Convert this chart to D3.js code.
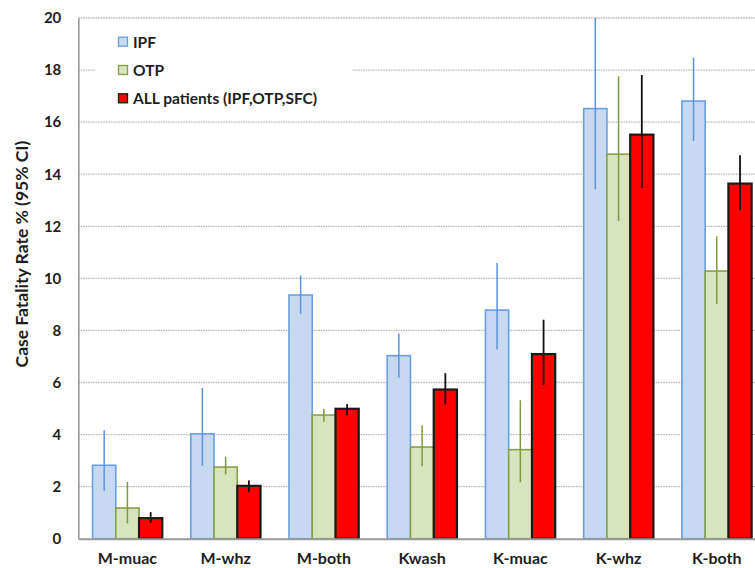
<!DOCTYPE html>
<html>
<head>
<meta charset="utf-8">
<script src="https://cdn.jsdelivr.net/npm/d3@7/dist/d3.min.js"></script>
<style>
  html, body { margin: 0; padding: 0; background: #ffffff; overflow: hidden; }
  svg { display: block; }
  text { font-family: Lato, "Liberation Sans", sans-serif; font-weight: 700; fill: #1e1e1e; }
</style>
</head>
<body>
<svg id="chart" width="755" height="568"></svg>
<script>
// Case fatality rate by malnutrition type and programme, with 95% CI
const categories = ["M-muac", "M-whz", "M-both", "Kwash", "K-muac", "K-whz", "K-both"];
const seriesNames = ["IPF", "OTP", "ALL patients (IPF,OTP,SFC)"];

const ipf   = [2.82, 4.03, 9.36, 7.03, 8.78, 16.52, 16.81];
const ipfLo = [1.84, 2.80, 8.64, 6.19, 7.27, 13.42, 15.28];
const ipfHi = [4.17, 5.79, 10.11, 7.88, 10.59, 20.0, 18.48];

const otp   = [1.18, 2.75, 4.75, 3.52, 3.42, 14.77, 10.28];
const otpLo = [0.59, 2.47, 4.49, 2.79, 2.17, 12.20, 9.01];
const otpHi = [2.18, 3.15, 4.99, 4.36, 5.32, 17.76, 11.62];

const allPts   = [0.79, 2.03, 4.99, 5.73, 7.09, 15.52, 13.64];
const allPtsLo = [0.61, 1.79, 4.74, 5.16, 5.91, 13.47, 12.62];
const allPtsHi = [1.02, 2.24, 5.17, 6.36, 8.41, 17.81, 14.73];

const yTicks = [0, 2, 4, 6, 8, 10, 12, 14, 16, 18, 20];

const styles = [
  { fill: "#c6d9f1", stroke: "#6a9ee0", err: "#5b93dc", sw: 1.6 },
  { fill: "#d8e4bd", stroke: "#86a044", err: "#7f9a3e", sw: 1.6 },
  { fill: "#ff0000", stroke: "#1a1a1a", err: "#111111", sw: 2.2 }
];

const rows = categories.map((c, i) => ({
  cat: c,
  vals: [
    { s: 0, v: ipf[i], lo: ipfLo[i], hi: ipfHi[i] },
    { s: 1, v: otp[i], lo: otpLo[i], hi: otpHi[i] },
    { s: 2, v: allPts[i], lo: allPtsLo[i], hi: allPtsHi[i] }
  ]
}));

const plotLeft = 78.3, plotTop = 18, plotBottom = 538.7, plotRight = 765.9;
const svg = d3.select("#chart");

const y = d3.scaleLinear().domain([0, 20]).range([plotBottom, plotTop]);
const x0 = d3.scaleBand().domain(categories).range([plotLeft, plotRight])
  .paddingInner(0.29).paddingOuter(0.145);
const x1 = d3.scaleBand().domain([0, 1, 2]).range([0, x0.bandwidth()]).padding(0);

// horizontal dotted gridlines
svg.append("g").selectAll("line")
  .data(yTicks.filter(t => t > 0))
  .join("line")
  .attr("x1", plotLeft).attr("x2", 755)
  .attr("y1", d => y(d)).attr("y2", d => y(d))
  .attr("stroke", "#b4b4b4").attr("stroke-width", 1.3)
  .attr("stroke-dasharray", "1.5,1");

// legend background masks the gridline behind it
svg.append("rect")
  .attr("x", 95).attr("y", 26).attr("width", 257).attr("height", 86)
  .attr("fill", "#ffffff");

// y axis
const yAxis = svg.append("g")
  .attr("transform", `translate(${plotLeft},0)`)
  .call(d3.axisLeft(y).tickValues(yTicks).tickSize(0).tickPadding(17));
yAxis.select(".domain").attr("stroke", "#9a9a9a").attr("stroke-width", 1.6);
yAxis.selectAll("text").style("font-size", "15px").attr("fill", "#1e1e1e");

// bars
const groups = svg.append("g").selectAll("g")
  .data(rows).join("g")
  .attr("transform", d => `translate(${x0(d.cat)},0)`);

groups.selectAll("rect")
  .data(d => d.vals).join("rect")
  .attr("x", d => x1(d.s))
  .attr("y", d => y(d.v))
  .attr("width", x1.bandwidth())
  .attr("height", d => y(0) - y(d.v))
  .attr("fill", d => styles[d.s].fill)
  .attr("stroke", d => styles[d.s].stroke)
  .attr("stroke-width", d => styles[d.s].sw);

// confidence interval lines
groups.selectAll("line.err")
  .data(d => d.vals).join("line")
  .attr("class", "err")
  .attr("x1", d => x1(d.s) + x1.bandwidth() / 2)
  .attr("x2", d => x1(d.s) + x1.bandwidth() / 2)
  .attr("y1", d => y(d.lo)).attr("y2", d => y(d.hi))
  .attr("stroke", d => styles[d.s].err)
  .attr("stroke-width", d => d.s === 2 ? 1.8 : 1.5);

// x axis
const xAxis = svg.append("g")
  .attr("transform", `translate(0,${plotBottom})`)
  .call(d3.axisBottom(x0).tickSize(0).tickPadding(14));
xAxis.select(".domain").attr("stroke", "#9a9a9a").attr("stroke-width", 2);
xAxis.selectAll("text").style("font-size", "16px").attr("fill", "#1e1e1e");

// y axis title
svg.append("text")
  .attr("transform", "translate(21,254) rotate(-90)")
  .attr("text-anchor", "middle")
  .attr("dominant-baseline", "central")
  .style("font-size", "17.5px")
  .text("Case Fatality Rate % (95% CI)");

// legend
const legend = svg.append("g").selectAll("g")
  .data(seriesNames).join("g")
  .attr("transform", (d, i) => `translate(118.5,${41.7 + i * 28.3})`);
legend.append("rect")
  .attr("x", 0).attr("y", -4.5).attr("width", 9).attr("height", 9)
  .attr("fill", (d, i) => styles[i].fill)
  .attr("stroke", (d, i) => styles[i].stroke)
  .attr("stroke-width", 1.3);
legend.append("text")
  .attr("x", 14.5).attr("y", 0)
  .attr("dominant-baseline", "central")
  .style("font-size", "15.5px")
  .text(d => d);
</script>
</body>
</html>
